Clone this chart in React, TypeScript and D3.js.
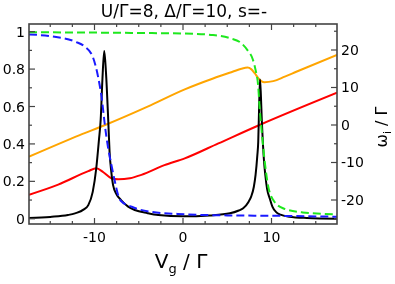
import React from "react";
import * as d3 from "d3";

// curve samples: [Vg/Γ, value]
const occUp: [number, number][] = [
  [-17.4, 0.985], [-14.5, 0.973], [-12.2, 0.947], [-11.1, 0.92], [-10.2, 0.866],
  [-9.6, 0.76], [-9.2, 0.65], [-8.9, 0.53], [-8.8, 0.49], [-8.5, 0.39],
  [-8.1, 0.29], [-7.7, 0.2], [-7.35, 0.13], [-7.0, 0.095], [-5.8, 0.064],
  [-3.6, 0.037], [0.2, 0.024], [5, 0.018], [10, 0.016], [17.4, 0.011],
];

const occDown: [number, number][] = [
  [-17.4, 0.997], [-5, 0.993], [0.2, 0.99], [3.4, 0.982], [5.3, 0.965],
  [6.6, 0.938], [7.3, 0.9], [7.9, 0.85], [8.2, 0.795], [8.5, 0.706],
  [8.65, 0.6], [8.85, 0.49], [9.2, 0.32], [9.6, 0.18], [10.2, 0.1],
  [11.3, 0.056], [13.5, 0.034], [17.4, 0.024],
];

const conductance: [number, number][] = [
  [-17.4, 0.004], [-15, 0.01], [-13, 0.02], [-12.2, 0.029], [-11.2, 0.05],
  [-10.7, 0.073], [-10.2, 0.144], [-9.8, 0.27], [-9.5, 0.42], [-9.3, 0.53],
  [-9.1, 0.75], [-8.9, 0.897], [-8.7, 0.78], [-8.45, 0.53], [-8.3, 0.36],
  [-8.1, 0.25], [-7.9, 0.18], [-7.5, 0.13], [-7.0, 0.1], [-6.2, 0.065],
  [-5.45, 0.047], [-4, 0.03], [-2.8, 0.02], [0, 0.013], [3, 0.018],
  [5.3, 0.029], [6.3, 0.044], [6.8, 0.056], [7.4, 0.09], [7.7, 0.118],
  [8.0, 0.17], [8.2, 0.234], [8.4, 0.34], [8.5, 0.41], [8.6, 0.6],
  [8.7, 0.745], [8.8, 0.66], [8.9, 0.53], [9.0, 0.43], [9.15, 0.31],
  [9.3, 0.234], [9.5, 0.16], [9.8, 0.109], [10.1, 0.065], [10.5, 0.037],
  [11, 0.022], [12, 0.011], [14, 0.004], [17.4, 0.0],
];

const omegaHigh: [number, number][] = [
  [-17.4, -8.45], [-11.67, -2.7], [-8.8, 0], [-4, 4.9], [0.2, 9.5],
  [3.4, 12.4], [5.6, 14.2], [6.6, 15.0], [7.3, 15.3], [7.7, 14.9],
  [8.1, 13.8], [8.5, 12.5], [8.85, 11.7], [9.2, 11.4], [10.2, 11.7],
  [11.5, 12.9], [12.8, 14.2], [17.4, 18.7],
];

const omegaLow: [number, number][] = [
  [-17.4, -18.6], [-14.1, -15.9], [-10.7, -12.3], [-9.8, -11.55], [-9.0, -12.6],
  [-8.1, -14.2], [-7.3, -14.5], [-6, -14.2], [-4.7, -13.3], [-2.1, -10.7],
  [0.2, -8.9], [4, -4.9], [8.65, 0], [17.4, 8.6],
];

const xTicks = [-10, 0, 10];
const xMinor = [-15, -12.5, -7.5, -5, -2.5, 2.5, 5, 7.5, 12.5, 15];
const yLeftTicks = [0, 0.2, 0.4, 0.6, 0.8, 1];
const yLeftMinor = [0.1, 0.3, 0.5, 0.7, 0.9];
const yRightTicks = [-20, -10, 0, 10, 20];
const yRightMinor = [-25, -15, -5, 5, 15, 25];

const W = 395;
const H = 284;
const left = 29, right = 337, top = 24, bottom = 224;
const frame = "#444";
const font = "'DejaVu Sans', sans-serif";

export default function App() {
  const x = d3.scaleLinear().domain([-17.4, 17.4]).range([left, right]);
  const yL = d3.scaleLinear().domain([-0.028, 1.041]).range([bottom, top]);
  const yR = d3.scaleLinear().domain([-26.4, 26.93]).range([bottom, top]);

  const lineL = d3.line<[number, number]>()
    .x((d) => x(d[0]))
    .y((d) => yL(d[1]))
    .curve(d3.curveMonotoneX);
  const lineR = d3.line<[number, number]>()
    .x((d) => x(d[0]))
    .y((d) => yR(d[1]))
    .curve(d3.curveMonotoneX);

  return (
    <div style={{ position: "fixed", left: 0, top: 0 }}>
      <svg width={W} height={H} style={{ display: "block" }}>
        <defs>
          <clipPath id="plot">
            <rect x={left} y={top} width={right - left} height={bottom - top} />
          </clipPath>
        </defs>
        <text x={184} y={16.5} textAnchor="middle" fontFamily={font} fontSize={17}>
          U/Γ=8, Δ/Γ=10, s=-
        </text>

        <g clipPath="url(#plot)" fill="none" strokeWidth={2}>
          <path d={lineR(omegaHigh)!} stroke="#ffa500" />
          <path d={lineR(omegaLow)!} stroke="#ff0000" />
          <path d={lineL(conductance)!} stroke="#000" />
          <path d={lineL(occUp)!} stroke="#1a1aff" strokeDasharray="8,4" />
          <path d={lineL(occDown)!} stroke="#1ee81e" strokeDasharray="8,4" />
        </g>

        <g stroke={frame} strokeWidth={1.2}>
          {xTicks.map((t) => (
            <g key={"xt" + t}>
              <line x1={x(t)} x2={x(t)} y1={bottom} y2={bottom - 6} />
              <line x1={x(t)} x2={x(t)} y1={top} y2={top + 6} />
            </g>
          ))}
          {xMinor.map((t) => (
            <g key={"xm" + t}>
              <line x1={x(t)} x2={x(t)} y1={bottom} y2={bottom - 3} />
              <line x1={x(t)} x2={x(t)} y1={top} y2={top + 3} />
            </g>
          ))}
          {yLeftTicks.map((t) => (
            <line key={"yl" + t} x1={left} x2={left + 6} y1={yL(t)} y2={yL(t)} />
          ))}
          {yLeftMinor.map((t) => (
            <line key={"ylm" + t} x1={left} x2={left + 3} y1={yL(t)} y2={yL(t)} />
          ))}
          {yRightTicks.map((t) => (
            <line key={"yr" + t} x1={right} x2={right - 6} y1={yR(t)} y2={yR(t)} />
          ))}
          {yRightMinor.map((t) => (
            <line key={"yrm" + t} x1={right} x2={right - 3} y1={yR(t)} y2={yR(t)} />
          ))}
        </g>
        <rect x={left} y={top} width={right - left} height={bottom - top}
          fill="none" stroke={frame} strokeWidth={1.6} />

        <g fontFamily={font} fontSize={14} fill="#000">
          {xTicks.map((t) => (
            <text key={"xl" + t} x={x(t)} y={242} textAnchor="middle">{t}</text>
          ))}
          {yLeftTicks.map((t) => (
            <text key={"yll" + t} x={25} y={yL(t) + 5} textAnchor="end">{t}</text>
          ))}
          {yRightTicks.map((t) => (
            <text key={"yrl" + t} x={341} y={yR(t) + 5} textAnchor="start">{t}</text>
          ))}
        </g>

        <text x={181} y={268} textAnchor="middle" fontFamily={font} fontSize={20}>
          V<tspan fontSize={13} dy={5}>g</tspan><tspan dy={-5}> / Γ</tspan>
        </text>
        <text transform="translate(387,127) rotate(-90)" textAnchor="middle"
          fontFamily={font} fontSize={16}>
          ω<tspan fontSize={11} dy={4}>i</tspan><tspan dy={-4}> / Γ</tspan>
        </text>
      </svg>
    </div>
  );
}
